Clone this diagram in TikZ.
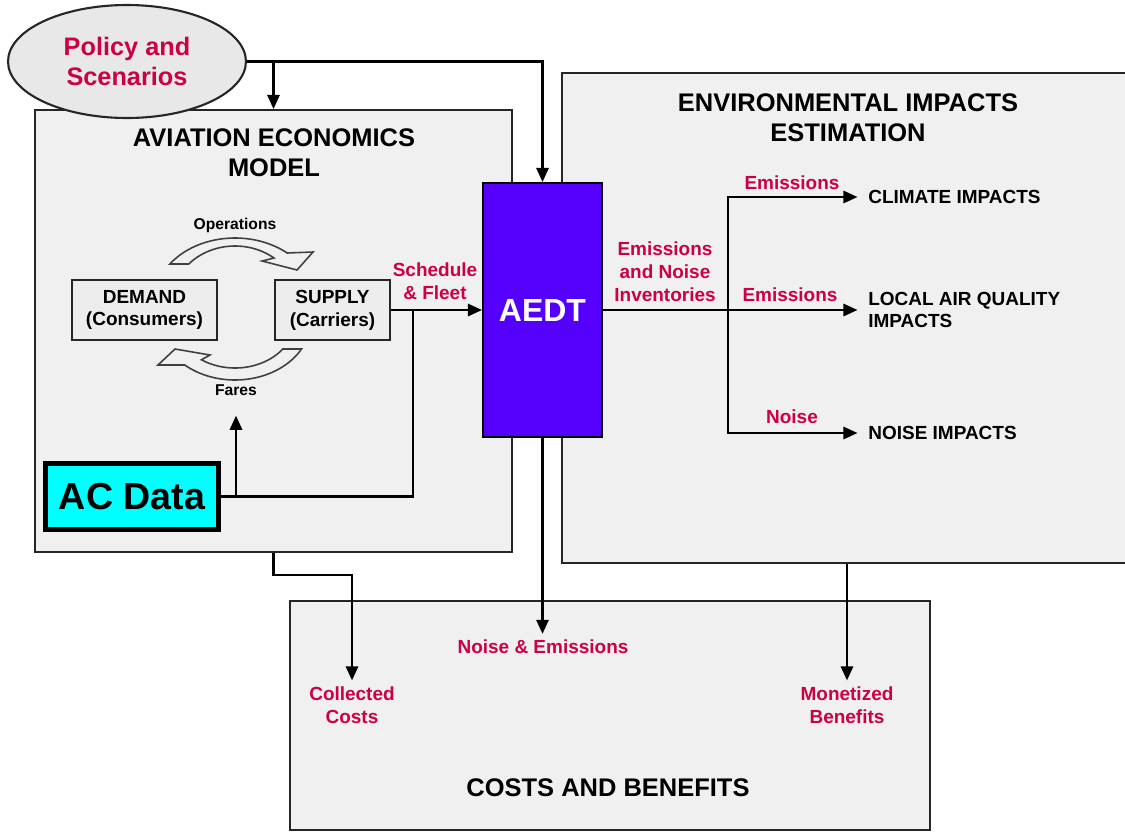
\documentclass[tikz,border=0pt]{standalone}
\usepackage{fontspec}
\setmainfont{Liberation Sans}
\usetikzlibrary{arrows.meta,shapes.geometric}
\definecolor{flowred}{RGB}{204,0,68}
\definecolor{panelgray}{RGB}{240,240,240}
\definecolor{aedtblue}{RGB}{85,0,255}
\definecolor{datacyan}{RGB}{0,255,255}

\begin{document}
\begin{tikzpicture}[x=0.02cm,y=-0.02cm,
  panel/.style={draw=black!85,line width=1.2pt,fill=panelgray,inner sep=0pt},
  mbox/.style={draw=black!85,line width=1.2pt,fill=black!7,minimum height=1.2cm,
    font=\fontsize{10.8}{13}\selectfont\bfseries,align=center},
  head/.style={font=\fontsize{14.5}{17}\selectfont\bfseries,align=center},
  body/.style={font=\fontsize{10.8}{13}\selectfont\bfseries,align=center},
  tag/.style={body,text=flowred},
  small/.style={font=\fontsize{8.9}{11}\selectfont\bfseries},
  link/.style={line width=1.2pt},
  arr/.style={link,-{Triangle[length=8pt,width=7pt]}},
  ring/.style={draw=black!75,line width=0.9pt}]
  \useasboundingbox (0,0) rectangle (1125,832);
  % panels
  \node[panel,minimum width=9.54cm,minimum height=8.84cm] (aem) at (273.5,331) {};
  \node[panel,minimum width=11.4cm,minimum height=9.8cm] (env) at (847,318) {};
  \node[panel,minimum width=12.8cm,minimum height=4.58cm] (costs) at (610,715.5) {};
  \node[head] (aemtitle) at (274,153) {AVIATION ECONOMICS\\MODEL};
  \node[head] (envtitle) at (848,118) {ENVIRONMENTAL IMPACTS\\ESTIMATION};
  \node[head] (coststitle) at (608,788) {COSTS AND BENEFITS};

  \node[ellipse,draw=black!85,line width=1.2pt,fill=black!9,inner sep=0pt,
    minimum width=4.76cm,minimum height=2.26cm,align=center,text=flowred,
    font=\fontsize{14.4}{17}\selectfont\bfseries] (policy) at (127,61.5) {Policy and\\Scenarios};
  \node[draw,line width=1.2pt,fill=aedtblue,minimum width=2.38cm,minimum height=5.08cm,
    text=white,font=\fontsize{18.2}{20}\selectfont\bfseries] (aedt) at (542.5,310) {AEDT};

  % demand / supply loop
  \node[mbox,minimum width=2.9cm] (demand) at (144.5,310) {DEMAND\\(Consumers)};
  \node[mbox,minimum width=2.3cm] (supply) at (332.5,310) {SUPPLY\\(Carriers)};
  \node[small] (ops) at (235,225) {Operations};
  \node[small] (fares) at (236,390) {Fares};
  \draw[ring] plot[domain=144.5:49.3,samples=40] ({235+80*cos(\x)},{300-62*sin(\x)})
    -- (313,252) -- (297,270) -- (262,261)
    -- plot[domain=51:138.2,samples=40] ({235+62*cos(\x)},{300-54*sin(\x)}) -- cycle;
  \draw[ring] plot[domain=28.9:131.4,samples=40] ({235+76*cos(\x)},{320+60*sin(\x)})
    -- (158,365) -- (175,349) -- (210,355)
    -- plot[domain=124:37.2,samples=40] ({235+60*cos(\x)},{320+48*sin(\x)}) -- cycle;
  \node[draw,line width=2.8pt,fill=datacyan,minimum width=3.46cm,minimum height=1.32cm,
    font=\fontsize{21.4}{24}\selectfont\bfseries] (acdata) at (132,496.5) {AC Data};

  % impacts
  \node[body,anchor=west,align=left,inner sep=0pt] (climate) at (868,197) {CLIMATE IMPACTS};
  \node[body,anchor=west,align=left,inner sep=0pt] (laq) at (868,310) {LOCAL AIR QUALITY\\IMPACTS};
  \node[body,anchor=west,align=left,inner sep=0pt] (noiseimp) at (868,433) {NOISE IMPACTS};

  % flow labels
  \node[tag] (sched) at (435,281) {Schedule\\\& Fleet};
  \node[tag] (inv) at (665,272) {Emissions\\and Noise\\Inventories};
  \node[tag] (climtag) at (792,183) {Emissions};
  \node[tag] (laqtag) at (790,295) {Emissions};
  \node[tag] (noisetag) at (792,417) {Noise};
  \node[tag] (nande) at (543,647) {Noise \& Emissions};
  \node[tag] (collected) at (352,705) {Collected\\Costs};
  \node[tag] (monetized) at (847,705) {Monetized\\Benefits};

  % connectors
  \coordinate (fj) at (413,310);
  \coordinate (split) at (728,310);
  \draw[arr] (policy.east) -| (aedt.north);
  \draw[arr] (policy.east -| aem.north) -- (aem.north);
  \draw[arr] (supply.east) -- (aedt.west);
  \draw[link] (acdata.east) -| (fj);
  \draw[arr] (acdata.east -| fares.south) -- ([yshift=-8pt]fares.south);
  \draw[arr] (aedt.east) -- ([xshift=-6pt]laq.west);
  \draw[arr] (split) |- ([xshift=-6pt]climate.west);
  \draw[arr] (split) |- ([xshift=-6pt]noiseimp.west);
  \draw[arr] (aedt.south) -- (aedt.south |- nande.north);
  \draw[arr] (aem.south) -- ++(0,22) -| (collected.north);
  \draw[arr] (env.south -| monetized.north) -- (monetized.north);
\end{tikzpicture}
\end{document}
